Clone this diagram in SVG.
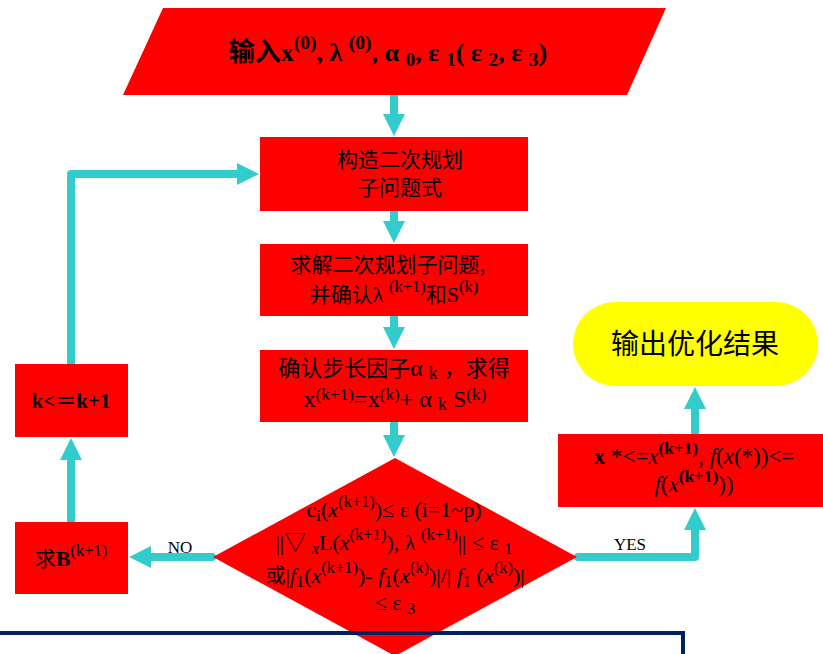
<svg xmlns="http://www.w3.org/2000/svg" width="823" height="654" viewBox="0 0 823 654">
<defs>
<style>
.red{fill:#FF0000}
.yel{fill:#FFFF00}
.con{fill:none;stroke:#33CCCC;stroke-width:8;stroke-linecap:round;stroke-linejoin:round}
.t{font-family:"Liberation Serif","Noto Sans CJK SC",serif;fill:#000;text-anchor:middle}
.cj{font-family:"Noto Sans CJK SC","Liberation Sans",sans-serif;fill:#000;text-anchor:middle}
.c{font-family:"Noto Sans CJK SC",sans-serif}
.b{font-weight:bold}
.i{font-style:italic}
.sup{font-size:75%;baseline-shift:0.6em}
.sup2{font-size:72%;baseline-shift:0.4em}
.sub{font-size:75%;baseline-shift:-0.25em}
.sub2{font-size:75%;baseline-shift:-0.15em}
.lbl{font-family:"Liberation Serif",serif;font-size:17px;fill:#000;text-anchor:middle}
</style>
<marker id="ah" markerUnits="userSpaceOnUse" markerWidth="23" markerHeight="22" refX="1" refY="11" orient="auto">
<path d="M0,0 L22,11 L0,22 z" fill="#33CCCC"/>
</marker>
</defs>
<rect width="823" height="654" fill="#fff"/>

<g id="connectors">
<path class="con" d="M394,97 V115" marker-end="url(#ah)"/>
<path class="con" d="M394,212 V222" marker-end="url(#ah)"/>
<path class="con" d="M394,317 V328" marker-end="url(#ah)"/>
<path class="con" d="M394,423 V436" marker-end="url(#ah)"/>
<path class="con" d="M212,557 H150" marker-end="url(#ah)"/>
<path class="con" d="M71,521 V459" marker-end="url(#ah)"/>
<path class="con" d="M71,363 V174 H238" marker-end="url(#ah)"/>
<path class="con" d="M578,557 H695 V529" marker-end="url(#ah)"/>
<path class="con" d="M695,433 V408" marker-end="url(#ah)"/>
<text class="lbl" x="180" y="553">NO</text>
<text class="lbl" x="630" y="550">YES</text>
</g>

<g id="input">
<polygon class="red" points="163,8 666,8 627,95 123,95"/>
<text class="t b" x="388" y="61" font-size="26">输入x<tspan class="sup">(0)</tspan>, λ <tspan class="sup">(0)</tspan>, α <tspan class="sub">0</tspan>,  ε <tspan class="sub">1</tspan>( ε <tspan class="sub">2</tspan>, ε <tspan class="sub">3</tspan>)</text>
</g>

<g id="construct">
<rect class="red" x="260" y="137" width="268" height="74"/>
<text class="cj" x="400" y="167" font-size="21">构造二次规划</text>
<text class="cj" x="400" y="195" font-size="21">子问题式</text>
</g>

<g id="solve">
<rect class="red" x="260" y="244" width="268" height="72"/>
<text class="cj" x="388" y="272" font-size="21">求解二次规划子问题,</text>
<text class="t" x="394" y="302" font-size="22"><tspan class="c" font-size="21">并确认</tspan>λ <tspan class="sup">(k+1)</tspan><tspan class="c" font-size="21">和</tspan>S<tspan class="sup">(k)</tspan></text>
</g>

<g id="step">
<rect class="red" x="260" y="350" width="268" height="72"/>
<text class="t" x="394" y="376" font-size="24"><tspan class="c" font-size="22">确认步长因子</tspan>α <tspan class="sub2">k</tspan> <tspan class="c" font-size="22">，求得</tspan></text>
<text class="t" x="395" y="407" font-size="24">x<tspan class="sup2">(k+1)</tspan>=x<tspan class="sup2">(k)</tspan>+  α <tspan class="sub2">k</tspan> S<tspan class="sup2">(k)</tspan></text>
</g>

<g id="check">
<polygon class="red" points="395,458 577,557 395,656 213,557"/>
<text class="t" x="394" y="517" font-size="22">c<tspan class="sub">i</tspan>(<tspan class="i">x</tspan><tspan class="sup">(k+1)</tspan>)≤ ε (i=1~p)</text>
<text class="t" x="394" y="550" font-size="22">||▽ <tspan class="sub i">x</tspan>L(<tspan class="i">x</tspan><tspan class="sup">(k+1)</tspan>),  λ <tspan class="sup">(k+1)</tspan>|| ≤ ε <tspan class="sub">1</tspan></text>
<text class="t" x="395" y="583" font-size="22"><tspan class="c" font-size="20">或</tspan>|<tspan class="i">f</tspan><tspan class="sub">1</tspan>(<tspan class="i">x</tspan><tspan class="sup">(k+1)</tspan>)- <tspan class="i">f</tspan><tspan class="sub">1</tspan>(<tspan class="i">x</tspan><tspan class="sup">(k)</tspan>)|/| <tspan class="i">f</tspan><tspan class="sub">1</tspan>  (<tspan class="i">x</tspan><tspan class="sup">(k)</tspan>)|</text>
<text class="t" x="395" y="610" font-size="22">≤ ε <tspan class="sub">3</tspan></text>
</g>

<g id="increment">
<rect class="red" x="15" y="364" width="113" height="73"/>
<text class="t b" x="71" y="408" font-size="21">k&lt;＝k+1</text>
</g>

<g id="hessian">
<rect class="red" x="15" y="522" width="113" height="72"/>
<text class="t" x="71" y="566" font-size="22"><tspan class="c" font-size="21">求</tspan><tspan class="b">B</tspan><tspan class="sup">(k+1)</tspan></text>
</g>

<g id="result">
<rect class="red" x="558" y="434" width="265" height="73"/>
<text class="t" x="694" y="464" font-size="23"><tspan class="b">x</tspan> *&lt;=<tspan class="i">x</tspan><tspan class="sup b">(k+1)</tspan>, <tspan class="i">f</tspan>(<tspan class="i">x</tspan>(*))&lt;=</text>
<text class="t" x="694" y="492" font-size="23"><tspan class="i">f</tspan>(<tspan class="i">x</tspan><tspan class="sup b">(k+1)</tspan>))</text>
</g>

<g id="output">
<rect class="yel" x="573" y="302" width="245" height="84" rx="42" ry="42"/>
<text class="cj" x="695" y="354" font-size="28">输出优化结果</text>
</g>

<rect x="-10" y="633" width="693" height="60" fill="none" stroke="#002060" stroke-width="4"/>
</svg>
